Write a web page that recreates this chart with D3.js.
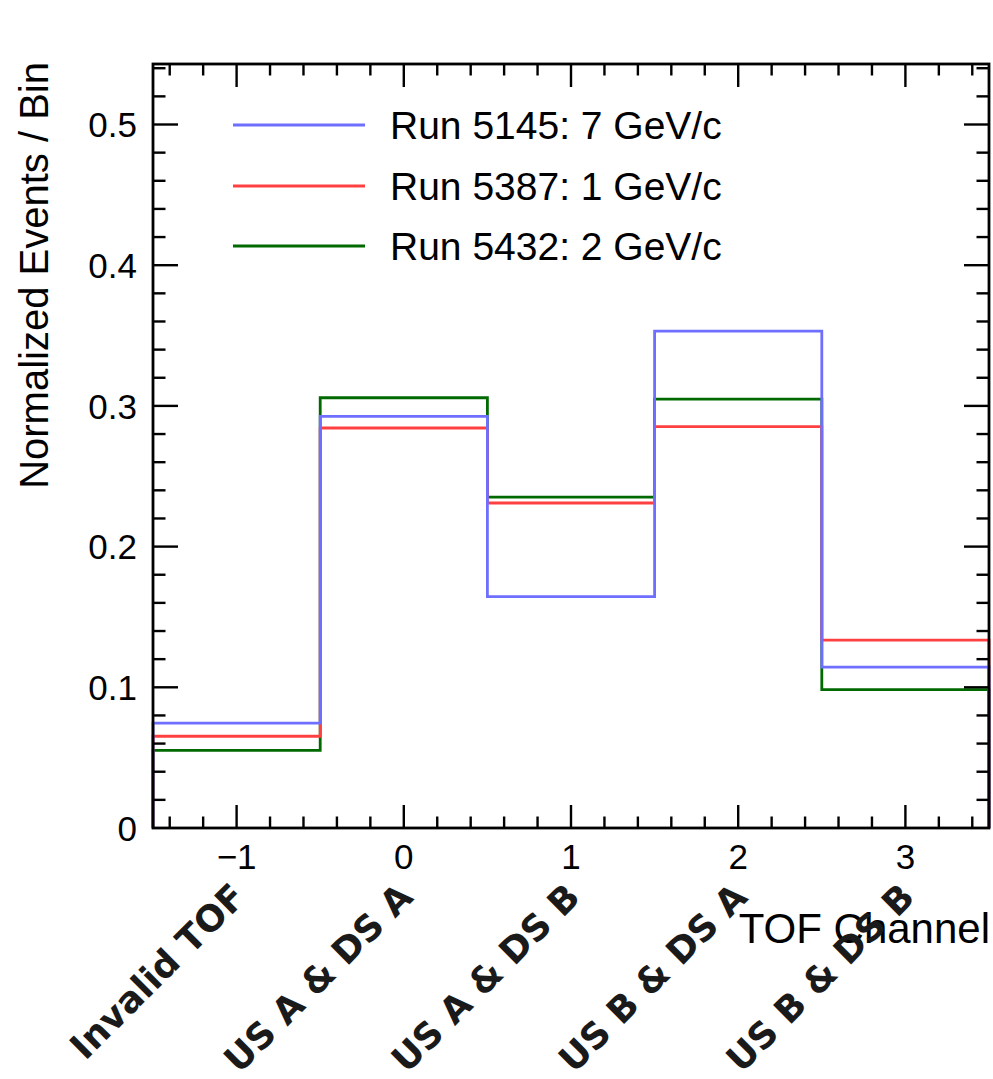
<!DOCTYPE html>
<html><head><meta charset="utf-8">
<script src="https://cdn.jsdelivr.net/npm/d3@7"></script>
<style>html,body{margin:0;padding:0;background:#fff;}</style>
</head><body>
<script>
const binCenters = [-1, 0, 1, 2, 3];
const binLabels = ["Invalid TOF", "US A & DS A", "US A & DS B", "US B & DS A", "US B & DS B"];
const run5145 = [0.0745, 0.2925, 0.1645, 0.3532, 0.1143];
const run5387 = [0.0652, 0.2843, 0.2310, 0.2852, 0.1336];
const run5432 = [0.0552, 0.3058, 0.2352, 0.3048, 0.0984];
const seriesNames = ["Run 5145: 7 GeV/c", "Run 5387: 1 GeV/c", "Run 5432: 2 GeV/c"];
const seriesColors = ["#6f6fff", "#ff4040", "#006a00"];
const yTicks = [0, 0.1, 0.2, 0.3, 0.4, 0.5];
const xTicks = [-1, 0, 1, 2, 3];

const W = 993, H = 1079;
const L = 153, R = 989, T = 64, B = 828;
const svg = d3.select("body").append("svg").attr("width", W).attr("height", H);
const x = d3.scaleLinear().domain([-1.5, 3.5]).range([L, R]);
const y = d3.scaleLinear().domain([0, 0.543]).range([B, T]);

const series = [run5145, run5387, run5432];
[2, 1, 0].forEach(i => {
  const v = series[i];
  const p = d3.path();
  p.moveTo(x(-1.5), y(0));
  v.forEach((val, k) => {
    p.lineTo(x(binCenters[k] - 0.5), y(val));
    p.lineTo(x(binCenters[k] + 0.5), y(val));
  });
  p.lineTo(x(3.5), y(0));
  svg.append("path").attr("d", p.toString()).attr("fill", "none")
    .attr("stroke", seriesColors[i]).attr("stroke-width", 2.8);
});

const g = svg.append("g").attr("stroke", "#000").attr("stroke-width", 2.4);
const xMinor = d3.range(-1.4, 3.5, 0.2).map(d => +d.toFixed(2));
xMinor.forEach(d => {
  const major = Math.abs(d - Math.round(d)) < 1e-6;
  const len = major ? 23 : 11.5;
  g.append("line").attr("x1", x(d)).attr("x2", x(d)).attr("y1", B).attr("y2", B - len);
  g.append("line").attr("x1", x(d)).attr("x2", x(d)).attr("y1", T).attr("y2", T + len);
});
const yMinor = d3.range(0.02, 0.543, 0.02).map(d => +d.toFixed(3));
yMinor.forEach(d => {
  const major = Math.abs(d * 10 - Math.round(d * 10)) < 1e-6;
  const len = major ? 25 : 12.5;
  g.append("line").attr("y1", y(d)).attr("y2", y(d)).attr("x1", L).attr("x2", L + len);
  g.append("line").attr("y1", y(d)).attr("y2", y(d)).attr("x1", R).attr("x2", R - len);
});

svg.append("rect").attr("x", L).attr("y", T).attr("width", R - L).attr("height", B - T)
  .attr("fill", "none").attr("stroke", "#000").attr("stroke-width", 2.8);

const font = "'Liberation Sans', Arial, Helvetica, sans-serif";
yTicks.forEach(d => {
  svg.append("text").attr("x", 137).attr("y", y(d)).attr("dy", "0.36em")
    .attr("text-anchor", "end").attr("font-family", font).attr("font-size", 35)
    .attr("fill", "#000").text(d === 0 ? "0" : d.toFixed(1));
});
xTicks.forEach(d => {
  svg.append("text").attr("x", x(d)).attr("y", 869)
    .attr("text-anchor", "middle").attr("font-family", font).attr("font-size", 35)
    .attr("fill", "#000").text(d < 0 ? "\u2212" + Math.abs(d) : String(d));
});

svg.append("text").attr("transform", "translate(48,62) rotate(-90)")
  .attr("text-anchor", "end").attr("font-family", font).attr("font-size", 40)
  .attr("fill", "#000").text("Normalized Events / Bin");
svg.append("text").attr("x", 990).attr("y", 943)
  .attr("text-anchor", "end").attr("font-family", font).attr("font-size", 42)
  .attr("fill", "#000").text("TOF Channel");

binCenters.forEach((c, k) => {
  svg.append("text").attr("transform", `translate(${x(c) + 11},${899}) rotate(-45)`)
    .attr("text-anchor", "end").attr("font-family", "'DejaVu Sans', sans-serif")
    .attr("font-weight", "bold").attr("font-size", 36).attr("fill", "#1a1a1a")
    .text(binLabels[k]);
});

const legY = [125, 186, 246];
seriesNames.forEach((n, i) => {
  svg.append("line").attr("x1", 233).attr("x2", 365).attr("y1", legY[i]).attr("y2", legY[i])
    .attr("stroke", seriesColors[i]).attr("stroke-width", 2.8);
  svg.append("text").attr("x", 390).attr("y", legY[i]).attr("dy", "0.36em")
    .attr("font-family", font).attr("font-size", 39).attr("fill", "#000").text(n);
});
</script>
</body></html>
